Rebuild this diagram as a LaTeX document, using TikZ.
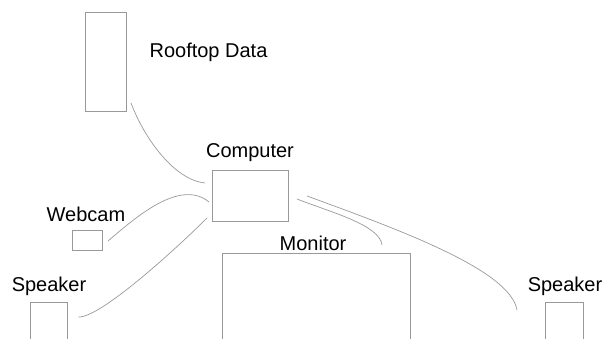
\documentclass[tikz,border=0pt]{standalone}
\usepackage{fontspec}
\setmainfont{Liberation Sans}
\begin{document}
\begin{tikzpicture}[x=1pt,y=-1pt,
  box/.style={draw=black!40,line width=0.8pt,inner sep=0pt,outer sep=0pt},
  lbl/.style={font=\fontsize{20}{24}\selectfont,text=black,inner sep=0pt},
  wire/.style={draw=black!40,line width=0.7pt}]
\useasboundingbox (0,0) rectangle (612,338);
% boxes
\node[box,minimum width=41pt,minimum height=99pt] (roof) at (105.5,61.5) {};
\node[box,minimum width=76pt,minimum height=51pt] (comp) at (250,195.5) {};
\node[box,minimum width=30pt,minimum height=20pt] (cam) at (87,240) {};
\node[box,minimum width=37pt,minimum height=60pt] (spkL) at (48.5,332) {};
\node[box,minimum width=188pt,minimum height=110pt] (mon) at (316,308) {};
\node[box,minimum width=38pt,minimum height=60pt] (spkR) at (564,332) {};
% labels
\node[lbl] (troof) at (208.5,52) {Rooftop Data};
\node[lbl] (tcomp) at (250,153) {Computer};
\node[lbl] (tcam) at (86,214) {Webcam};
\node[lbl] (tspkL) at (49,286) {Speaker};
\node[lbl] (tmon) at (313,243) {Monitor};
\node[lbl] (tspkR) at (565,286) {Speaker};
% connectors
\draw[wire] ([shift={(5,-8)}]roof.south east) .. controls (145,140) and (175,180) .. ([shift={(-7,-12.5)}]comp.west);
\draw[wire] ([shift={(6,1)}]cam.east) .. controls (135,218) and (180,178) .. ([shift={(-3,6.5)}]comp.west);
\draw[wire] ([shift={(30,15)}]spkL.north) .. controls (100,318) and (175,250) .. ([shift={(-5,22.5)}]comp.west);
\draw[wire] ([shift={(9,3.5)}]comp.east) .. controls (330,212) and (380,225) .. ([shift={(66,-8)}]mon.north);
\draw[wire] ([shift={(19,0.5)}]comp.east) .. controls (400,230) and (510,270) .. ([shift={(-47,8)}]spkR.north);
\end{tikzpicture}
\end{document}
